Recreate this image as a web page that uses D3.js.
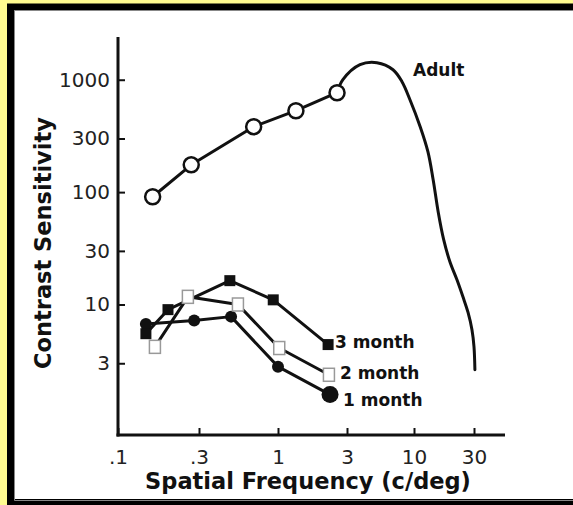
<!DOCTYPE html>
<html>
<head>
<meta charset="utf-8">
<script src="https://cdn.jsdelivr.net/npm/d3@7"></script>
<style>
  html, body { margin: 0; padding: 0; background: #fffb90; overflow: hidden; }
  svg { display: block; }
</style>
</head>
<body>
<div id="chart"></div>
<script>
// Axis ticks
const xTicks = [0.1, 0.3, 1, 3, 10, 30];
const xTickLabels = [".1", ".3", "1", "3", "10", "30"];
const yTicks = [3, 10, 30, 100, 300, 1000];
const yTickLabels = ["3", "10", "30", "100", "300", "1000"];

// Adult: measured points (open circles) + the smooth high-frequency tail
const adultFreq = [0.16, 0.27, 0.69, 1.33, 2.56];
const adultSens = [91, 175, 382, 530, 766];
const adultTailFreq = [2.56, 2.81, 3.79, 5.14, 6.86, 8.06, 9.3, 11.2, 12.9, 14.2, 15.6, 17.2, 19.3, 22.0, 24.5, 26.9, 28.9, 30, 30.5];
const adultTailSens = [766, 1000, 1360, 1417, 1227, 960, 664, 382, 229, 129, 66, 38, 24, 16.5, 11.7, 8.5, 5.97, 4.2, 2.63];

// Infants
const m3Freq = [0.146, 0.197, 0.48, 0.93, 2.22];
const m3Sens = [5.5, 9.0, 16.3, 11.0, 4.4];
const m2Freq = [0.165, 0.258, 0.543, 1.02, 2.25];
const m2Sens = [4.2, 11.7, 10.0, 4.1, 2.37];
const m1Freq = [0.146, 0.281, 0.489, 1.0, 2.29];
const m1Sens = [6.7, 7.2, 7.8, 2.8, 1.58];

const width = 573;
const height = 505;
const ink = "#111";
const font = "'DejaVu Sans', Verdana, sans-serif";

const svg = d3.select("#chart")
              .append("svg")
              .attr("width", width)
              .attr("height", height);

// frame: black border on left, top and bottom; white panel runs off the right edge
svg.append("rect")
   .attr("x", 14).attr("y", 10)
   .attr("width", width - 14).attr("height", 491)
   .attr("fill", "#fff");
svg.append("path")
   .attr("d", `M${width},7 H10.5 V502.5 H${width}`)
   .attr("fill", "none")
   .attr("stroke", "#000")
   .attr("stroke-width", 7);
svg.append("path")
   .attr("d", `M${width},10.5 H14.5 V500.5 H${width}`)
   .attr("fill", "none")
   .attr("stroke", "#888")
   .attr("stroke-width", 1);

// hand drawn axis: decades are not evenly spaced, so piecewise log scale
const x = d3.scaleLog()
            .domain(xTicks)
            .range([118, 199, 278, 347, 414, 474]);

const y = d3.scaleLog()
            .domain([0.69, 2400])
            .range([435, 37]);

const xAxis = d3.axisBottom(x)
                .tickValues(xTicks)
                .tickFormat((d, i) => xTickLabels[i])
                .tickSizeInner(-7)
                .tickSizeOuter(0)
                .tickPadding(15);

const yAxis = d3.axisLeft(y)
                .tickValues(yTicks)
                .tickFormat((d, i) => yTickLabels[i])
                .tickSizeInner(-7)
                .tickSizeOuter(0)
                .tickPadding(8);

const gx = svg.append("g")
              .attr("transform", "translate(0,435)")
              .call(xAxis);
const gy = svg.append("g")
              .attr("transform", "translate(118,0)")
              .call(yAxis);

[gx, gy].forEach(g => {
  g.select(".domain").remove();
  g.selectAll(".tick line").attr("stroke", ink).attr("stroke-width", 2);
  g.selectAll(".tick text")
   .attr("fill", "#222")
   .style("font-family", font)
   .style("font-size", "20px");
});

// axis lines
svg.append("line")
   .attr("x1", 118).attr("x2", 118)
   .attr("y1", 37).attr("y2", 436.5)
   .attr("stroke", ink).attr("stroke-width", 3);
svg.append("line")
   .attr("x1", 116.5).attr("x2", 505)
   .attr("y1", 435).attr("y2", 435)
   .attr("stroke", ink).attr("stroke-width", 3);

// axis titles
svg.append("text")
   .attr("x", 308).attr("y", 489)
   .attr("text-anchor", "middle")
   .style("font-family", font)
   .style("font-weight", "bold")
   .style("font-size", "22.5px")
   .attr("fill", ink)
   .text("Spatial Frequency (c/deg)");

svg.append("text")
   .attr("transform", "translate(51,243) rotate(-90)")
   .attr("text-anchor", "middle")
   .style("font-family", font)
   .style("font-weight", "bold")
   .style("font-size", "22.5px")
   .attr("fill", ink)
   .text("Contrast Sensitivity");

const zip = (fs, ss) => fs.map((f, i) => ({ f: f, s: ss[i] }));

const line = d3.line()
               .x(d => x(d.f))
               .y(d => y(d.s));

const smooth = d3.line()
                 .x(d => x(d.f))
                 .y(d => y(d.s))
                 .curve(d3.curveCatmullRom.alpha(0.5));

const adult = zip(adultFreq, adultSens);
const adultTail = zip(adultTailFreq, adultTailSens);
const m3 = zip(m3Freq, m3Sens);
const m2 = zip(m2Freq, m2Sens);
const m1 = zip(m1Freq, m1Sens);

// lines
[adult, m1, m2, m3].forEach(data => {
  svg.append("path")
     .datum(data)
     .attr("d", line)
     .attr("fill", "none")
     .attr("stroke", ink)
     .attr("stroke-width", 3)
     .attr("stroke-linejoin", "round");
});

svg.append("path")
   .datum(adultTail)
   .attr("d", smooth)
   .attr("fill", "none")
   .attr("stroke", ink)
   .attr("stroke-width", 3)
   .attr("stroke-linecap", "round");

// markers
svg.append("g")
   .selectAll("circle")
   .data(adult)
   .enter().append("circle")
     .attr("cx", d => x(d.f))
     .attr("cy", d => y(d.s))
     .attr("r", 7.5)
     .attr("fill", "#fff")
     .attr("stroke", ink)
     .attr("stroke-width", 2.5);

svg.append("g")
   .selectAll("circle")
   .data(m1)
   .enter().append("circle")
     .attr("cx", d => x(d.f))
     .attr("cy", d => y(d.s))
     .attr("r", (d, i) => i === m1.length - 1 ? 8.5 : 6)
     .attr("fill", ink);

svg.append("g")
   .selectAll("rect")
   .data(m2)
   .enter().append("rect")
     .attr("x", d => x(d.f) - 5.5)
     .attr("y", d => y(d.s) - 6.5)
     .attr("width", 11)
     .attr("height", 13)
     .attr("fill", "#fff")
     .attr("stroke", "#999")
     .attr("stroke-width", 1.5);

svg.append("g")
   .selectAll("rect")
   .data(m3)
   .enter().append("rect")
     .attr("x", d => x(d.f) - 5.5)
     .attr("y", d => y(d.s) - 5.5)
     .attr("width", 11)
     .attr("height", 11)
     .attr("fill", ink);

// series labels
const labels = [
  { text: "Adult", f: 2.56, s: 766, dx: 76, dy: -17 },
  { text: "3 month", f: 2.22, s: 4.4, dx: 7, dy: 3 },
  { text: "2 month", f: 2.25, s: 2.37, dx: 11, dy: 4 },
  { text: "1 month", f: 2.29, s: 1.58, dx: 13, dy: 11 }
];

svg.append("g")
   .selectAll("text")
   .data(labels)
   .enter().append("text")
     .attr("x", d => x(d.f) + d.dx)
     .attr("y", d => y(d.s) + d.dy)
     .style("font-family", font)
     .style("font-weight", "bold")
     .style("font-size", "17px")
     .attr("fill", ink)
     .text(d => d.text);
</script>
</body>
</html>
